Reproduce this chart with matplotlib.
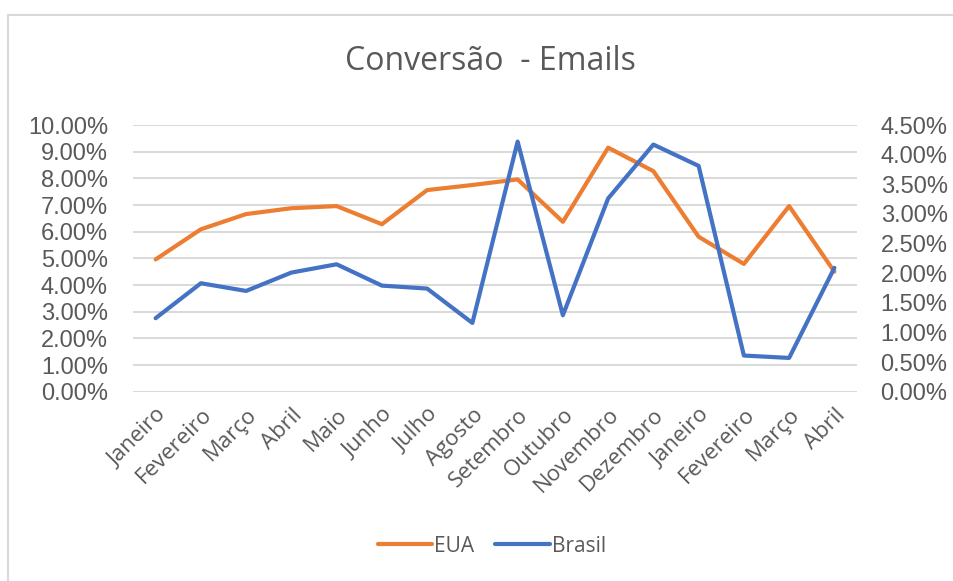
import matplotlib.pyplot as plt
import matplotlib.patches as patches
import numpy as np

# Meses (dois anos seguidos)
months = ["Janeiro", "Fevereiro", "Março", "Abril", "Maio", "Junho", "Julho",
          "Agosto", "Setembro", "Outubro", "Novembro", "Dezembro",
          "Janeiro", "Fevereiro", "Março", "Abril"]

# Conversão EUA (eixo esquerdo, %)
eua = [4.96, 6.09, 6.66, 6.88, 6.96, 6.28, 7.56, 7.75, 7.96, 6.37, 9.15, 8.27,
       5.81, 4.79, 6.96, 4.50]

# Conversão Brasil (eixo direito, %)
brasil = [1.24, 1.83, 1.70, 2.01, 2.15, 1.79, 1.74, 1.16, 4.22, 1.29, 3.26, 4.17,
          3.81, 0.61, 0.57, 2.09]

left_ticks = np.arange(0, 10.01, 1.0)
right_ticks = np.arange(0, 4.51, 0.5)

ORANGE = "#ED7D31"
BLUE = "#4472C4"
TEXT = "#595959"

fig = plt.figure(figsize=(9.54, 5.81), dpi=100)
ax = fig.add_axes([133 / 954, 1 - 391.7 / 581, (857 - 133) / 954, (391.7 - 125) / 581])
ax2 = ax.twinx()

x = np.arange(len(months))

# grid
for t in left_ticks:
    ax.axhline(t, color="#D9D9D9", lw=1.4, zorder=0)

l1, = ax.plot(x, eua, color=ORANGE, lw=3, solid_capstyle="round",
              solid_joinstyle="round", label="EUA", zorder=3)
l2, = ax2.plot(x, brasil, color=BLUE, lw=3, solid_capstyle="round",
               solid_joinstyle="round", label="Brasil", zorder=3)

ax.set_xlim(-0.5, len(months) - 0.5)
ax.set_ylim(0, 10)
ax2.set_ylim(0, 4.5)

ax.set_yticks(left_ticks)
ax.set_yticklabels([f"{v:.2f}%" for v in left_ticks])
ax2.set_yticks(right_ticks)
ax2.set_yticklabels([f"{v:.2f}%" for v in right_ticks])

ax.set_xticks(x)
ax.set_xticklabels(months, rotation=45, ha="right", rotation_mode="anchor",
                   fontsize=16, color=TEXT, family="Open Sans")

for a in (ax, ax2):
    for s in a.spines.values():
        s.set_visible(False)
    a.tick_params(length=0)

ax.tick_params(axis="y", labelsize=17, labelcolor=TEXT, pad=18)
ax2.tick_params(axis="y", labelsize=17, labelcolor=TEXT, pad=17)
ax.tick_params(axis="x", pad=9)
for lab in ax.get_yticklabels() + ax2.get_yticklabels():
    lab.set_family("Liberation Sans")

fig.text(490 / 954, 1 - 62 / 581, "Conversão  - Emails", ha="center", va="center",
         fontsize=23, color=TEXT, family="Open Sans")

leg = fig.legend(handles=[l1, l2], loc="center", bbox_to_anchor=(492 / 954, 1 - 546 / 581),
                 ncol=2, frameon=False, handlelength=2.6, handletextpad=0.1,
                 columnspacing=1.0, prop={"family": "Open Sans", "size": 15})
for t in leg.get_texts():
    t.set_color(TEXT)

# moldura do gráfico
frame = patches.Rectangle((8 / 954, -0.05), 1.0, 1 - 15 / 581 + 0.05, transform=fig.transFigure,
                          fill=False, edgecolor="#D9D9D9", lw=1.5)
fig.patches.append(frame)

fig.savefig("out.png", dpi=100, facecolor="white")
